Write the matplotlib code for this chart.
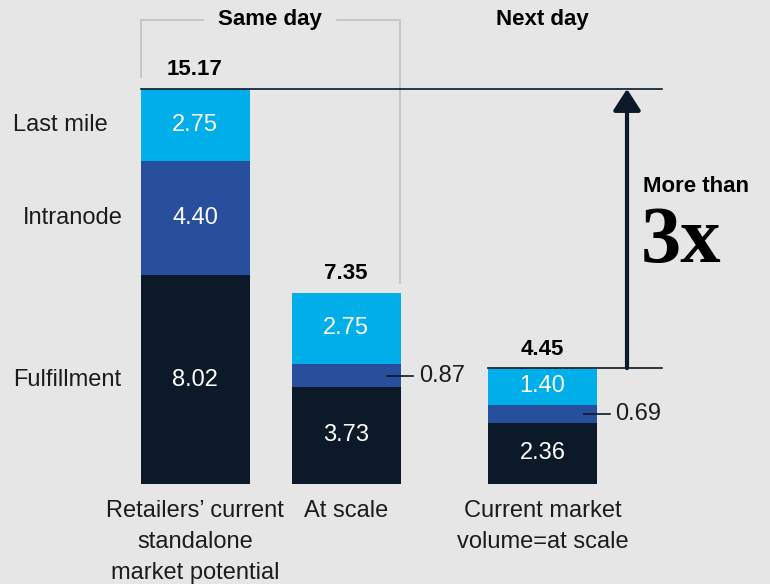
import matplotlib.pyplot as plt
from matplotlib.transforms import blended_transform_factory

# Delivery cost per parcel, split by leg
categories = ["Retailers’ current\nstandalone\nmarket potential", "At scale",
              "Current market\nvolume=at scale"]
fulfillment = [8.02, 3.73, 2.36]
intranode = [4.40, 0.87, 0.69]
last_mile = [2.75, 2.75, 1.40]
totals = [15.17, 7.35, 4.45]
segments = ["Fulfillment", "Intranode", "Last mile"]

NAVY = "#0b1928"
BLUE = "#284f9e"
CYAN = "#00aee9"
BG = "#e6e6e6"
INK = "#1c1c1c"

plt.rcParams['font.family'] = ['Liberation Sans', 'DejaVu Sans']

fig = plt.figure(figsize=(7.7, 5.84), dpi=100, facecolor=BG)
ax = fig.add_axes([0, 0, 1, 1])
ax.set_facecolor(BG)
ax.axis('off')

# x in pixels across the figure, y in cost units (baseline 484 px from top)
PPU = 26.04
ax.set_xlim(0, 770)
ax.set_ylim(-100 / PPU, 484 / PPU)
top = blended_transform_factory(ax.transData, ax.transAxes)

def fy(ypix):
    return 1 - ypix / 584

xs = [195, 346, 542.5]
width = 109

ax.bar(xs, fulfillment, width, color=NAVY)
ax.bar(xs, intranode, width, bottom=fulfillment, color=BLUE)
lower = [f + i for f, i in zip(fulfillment, intranode)]
ax.bar(xs, last_mile, width, bottom=lower, color=CYAN)

# values inside / beside each segment
for x, f, i, l, lo in zip(xs, fulfillment, intranode, last_mile, lower):
    ax.text(x, f / 2, f"{f:.2f}", color="white", ha="center", va="center", fontsize=17)
    ax.text(x, lo + l / 2, f"{l:.2f}", color="white", ha="center", va="center", fontsize=17)
    ym = f + i / 2
    if i > 2:
        ax.text(x, ym, f"{i:.2f}", color="white", ha="center", va="center", fontsize=17)
    else:
        ax.plot([x + 41, x + 67], [ym, ym], color=NAVY, lw=1.2)
        ax.text(x + 73, ym, f"{i:.2f}", color=INK, ha="left", va="center", fontsize=17)

for x, t in zip(xs, totals):
    ax.text(x, t + 19 / PPU, f"{t:.2f}", color="black", ha="center", va="center",
            fontsize=16, fontweight="bold")

for x, c in zip(xs, categories):
    ax.text(x, -16 / PPU, c, color=INK, ha="center", va="top", fontsize=17,
            linespacing=1.52)

# segment names next to the first bar
seg_x = [13, 23, 13]
seg_y = [fulfillment[0] / 2, fulfillment[0] + intranode[0] / 2, lower[0] + last_mile[0] / 2]
for name, sx, sy in zip(segments, seg_x, seg_y):
    ax.text(sx, sy, name, color=INK, ha="left", va="center", fontsize=17)

# "Same day" bracket
GRAY = "#c4c4c4"
ax.plot([141, 141], [fy(77), fy(20)], transform=top, color=GRAY, lw=1.3)
ax.plot([141, 203], [fy(20), fy(20)], transform=top, color=GRAY, lw=1.3)
ax.plot([337, 400, 400], [fy(20), fy(20), fy(283)], transform=top, color=GRAY, lw=1.3)
ax.text(270, fy(20), "Same day", transform=top, ha="center", va="center",
        fontsize=16, fontweight="bold", color="black")
ax.text(542.5, fy(20), "Next day", transform=top, ha="center", va="center",
        fontsize=16, fontweight="bold", color="black")

# reference lines and the gap arrow
ax.plot([141, 662], [totals[0], totals[0]], color=NAVY, lw=1.2)
ax.plot([488, 662], [totals[2], totals[2]], color=NAVY, lw=1.2)
ax.annotate("", xy=(627, totals[0]), xytext=(627, totals[2]),
            arrowprops=dict(arrowstyle="-|>,head_length=0.65,head_width=0.42",
                            mutation_scale=20, color=NAVY, lw=3,
                            shrinkA=0, shrinkB=0))
ax.text(643, fy(187), "More than", transform=top, ha="left", va="center",
        fontsize=16, fontweight="bold", color="black")
ax.text(641, fy(243), "3x", transform=top, ha="left", va="center",
        fontsize=58, fontweight="bold", family=["Liberation Serif", "DejaVu Serif"],
        color="black")

fig.savefig("out.png", dpi=100, facecolor=BG)
